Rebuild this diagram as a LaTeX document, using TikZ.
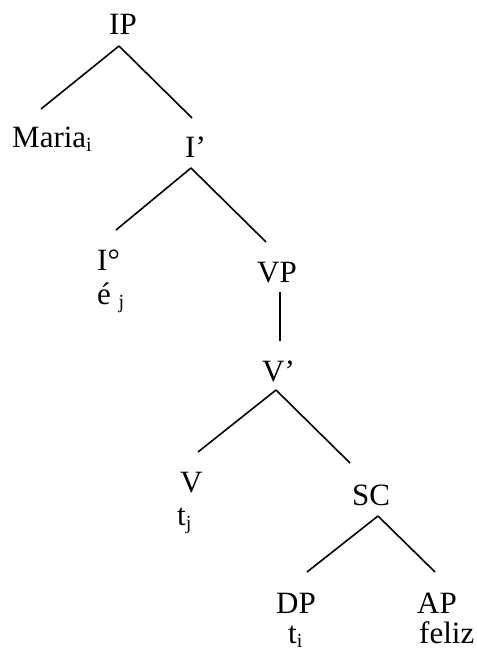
\documentclass[tikz,border=0pt]{standalone}
\usepackage{fontspec}
\setmainfont{Liberation Serif}
\newcommand{\sbi}[1]{{\fontsize{20}{20}\selectfont\raisebox{-4pt}{#1}}}
\begin{document}
\begin{tikzpicture}[x=1pt,y=-1pt,
  lab/.style={anchor=base west,inner sep=0pt,font=\fontsize{31}{31}\selectfont},
  edge/.style={line width=1.6pt}]
\useasboundingbox[fill=white] (0,0) rectangle (476,652);
% labels
\node[lab] (IP) at (109,35) {IP};
\node[lab] (Maria) at (12,148) {Maria\sbi{i}};
\node[lab] (Ibar) at (185,158) {I’};
\node[lab] (Io) at (97,270) {I°};
\node[lab] (e) at (97,304) {é \sbi{j}};
\node[lab] (VP) at (257,282) {VP};
\node[lab] (Vbar) at (262,381) {V’};
\node[lab] (V) at (180,492) {V};
\node[lab] (tj) at (177,525) {t\sbi{j}};
\node[lab] (SC) at (352,505) {SC};
\node[lab] (DP) at (276,613) {DP};
\node[lab] (ti) at (288,643) {t\sbi{i}};
\node[lab] (AP) at (417,613) {AP};
\node[lab] (feliz) at (419,643) {feliz};
% connector endpoints
\coordinate (IPb) at (119,46);
\coordinate (Mariat) at (41,109);
\coordinate (Ibart) at (192,118);
\coordinate (Ibarb) at (191,168);
\coordinate (Iot) at (116,230);
\coordinate (VPt) at (266,242);
\coordinate (VPb) at (280,292);
\coordinate (Vbart) at (280,341);
\coordinate (Vbarb) at (276,390);
\coordinate (Vt) at (198,452);
\coordinate (SCt) at (350,463);
\coordinate (SCb) at (378,516);
\coordinate (DPt) at (307,572);
\coordinate (APt) at (435,572);
\draw[edge] (IPb) -- (Mariat);
\draw[edge] (IPb) -- (Ibart);
\draw[edge] (Ibarb) -- (Iot);
\draw[edge] (Ibarb) -- (VPt);
\draw[edge] (VPb) -- (Vbart);
\draw[edge] (Vbarb) -- (Vt);
\draw[edge] (Vbarb) -- (SCt);
\draw[edge] (SCb) -- (DPt);
\draw[edge] (SCb) -- (APt);
\end{tikzpicture}
\end{document}
